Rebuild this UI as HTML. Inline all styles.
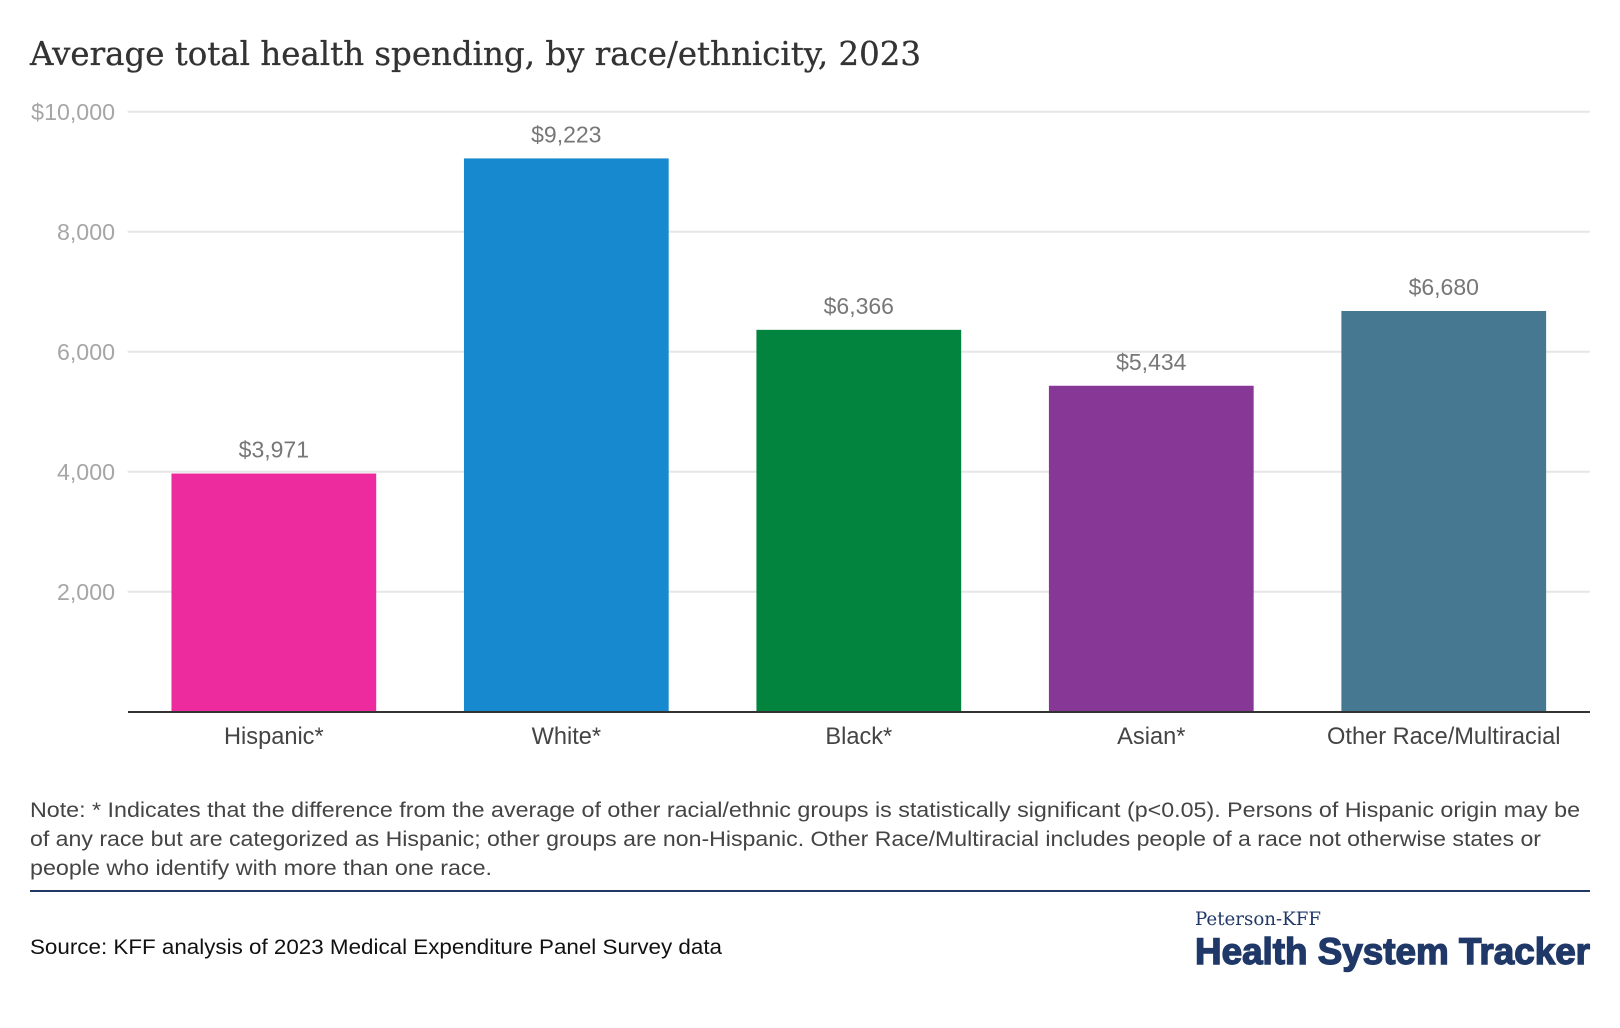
<!DOCTYPE html>
<html lang="en">
<head>
<meta charset="utf-8">
<title>Average total health spending, by race/ethnicity, 2023</title>
<style>
html,body{margin:0;padding:0;background:#fff;width:1620px;height:1028px;overflow:hidden}
svg{display:block}
text{font-family:"Liberation Sans",sans-serif}
</style>
</head>
<body>
<svg id="chart" xmlns="http://www.w3.org/2000/svg" width="1620" height="1028" viewBox="0 0 1620 1028">
  <text x="30" y="65" fill="#333" stroke="#333" stroke-width="0.3" textLength="891" lengthAdjust="spacingAndGlyphs" style="font-family:'DejaVu Serif',serif;font-size:33px">Average total health spending, by race/ethnicity, 2023</text>
  <g id="grid"></g>
  <g id="bars"></g>
  <g id="labels"></g>
  <g id="yticks"></g>
  <g id="xticks"></g>
  <line x1="128" x2="1590" y1="712" y2="712" stroke="#333" stroke-width="2"/>
  <g fill="#444" font-size="21.5">
    <text x="30" y="817" textLength="1550" lengthAdjust="spacingAndGlyphs">Note: * Indicates that the difference from the average of other racial/ethnic groups is statistically significant (p&lt;0.05). Persons of Hispanic origin may be</text>
    <text x="30" y="846" textLength="1511" lengthAdjust="spacingAndGlyphs">of any race but are categorized as Hispanic; other groups are non-Hispanic. Other Race/Multiracial includes people of a race not otherwise states or</text>
    <text x="30" y="875" textLength="462" lengthAdjust="spacingAndGlyphs">people who identify with more than one race.</text>
  </g>
  <rect x="30" y="890" width="1560" height="2" fill="#1f3868"/>
  <text x="30" y="954" fill="#111" font-size="21.5" textLength="692" lengthAdjust="spacingAndGlyphs">Source: KFF analysis of 2023 Medical Expenditure Panel Survey data</text>
  <g fill="#1f3868">
    <text x="1195" y="925" textLength="126" lengthAdjust="spacingAndGlyphs" style="font-family:'DejaVu Serif',serif;font-size:18.5px">Peterson-KFF</text>
    <text x="1195" y="964" textLength="395" lengthAdjust="spacingAndGlyphs" stroke="#1f3868" stroke-width="1.4" font-weight="700" font-size="37">Health System Tracker</text>
  </g>
</svg>
<script>
const categories = ["Hispanic*", "White*", "Black*", "Asian*", "Other Race/Multiracial"];
const spending = [3971, 9223, 6366, 5434, 6680];
const valueLabels = ["$3,971", "$9,223", "$6,366", "$5,434", "$6,680"];
const barColors = ["#EE2A9F", "#1789CE", "#02843F", "#873795", "#467892"];
const tickValues = [2000, 4000, 6000, 8000, 10000];
const tickLabels = ["2,000", "4,000", "6,000", "8,000", "$10,000"];

const plotLeft = 127.6, plotRight = 1590, plotTop = 111.8, plotBottom = 711.8, yMax = 10000;
const NS = "http://www.w3.org/2000/svg";
const yScale = v => plotBottom - (v / yMax) * (plotBottom - plotTop);
const band = (plotRight - plotLeft) / categories.length;
const xCenter = i => plotLeft + band * (i + 0.5);
const barWidth = band * 0.7;
function make(tag, attrs, txt) {
  const el = document.createElementNS(NS, tag);
  for (const k in attrs) el.setAttribute(k, attrs[k]);
  if (txt !== undefined) el.textContent = txt;
  return el;
}
const grid = document.getElementById("grid");
const yticks = document.getElementById("yticks");
tickValues.forEach((v, i) => {
  const line = make("line", {x1: plotLeft, x2: plotRight, y1: yScale(v), y2: yScale(v), stroke: "#e6e6e6", "stroke-width": 2});
  
  
  grid.appendChild(line);
  const t = make("text", {x: 115, y: yScale(v) + 8, "text-anchor": "end", fill: "#a6a6a6", "font-size": 23.2}, tickLabels[i]);
  
  
  yticks.appendChild(t);
});
const bars = document.getElementById("bars");
const labels = document.getElementById("labels");
const xticks = document.getElementById("xticks");
categories.forEach((c, i) => {
  const top = yScale(spending[i]);
  const r = make("rect", {x: xCenter(i) - barWidth / 2, y: top, width: barWidth, height: plotBottom - top, fill: barColors[i]});
  
  
  bars.appendChild(r);
  const vl = make("text", {x: xCenter(i), y: top - 16, "text-anchor": "middle", fill: "#777", "font-size": 23}, valueLabels[i]);
  
  
  labels.appendChild(vl);
  const xl = make("text", {x: xCenter(i), y: 744, "text-anchor": "middle", fill: "#444", "font-size": 23.6}, c);
  
  
  xticks.appendChild(xl);
});
</script>
</body>
</html>
